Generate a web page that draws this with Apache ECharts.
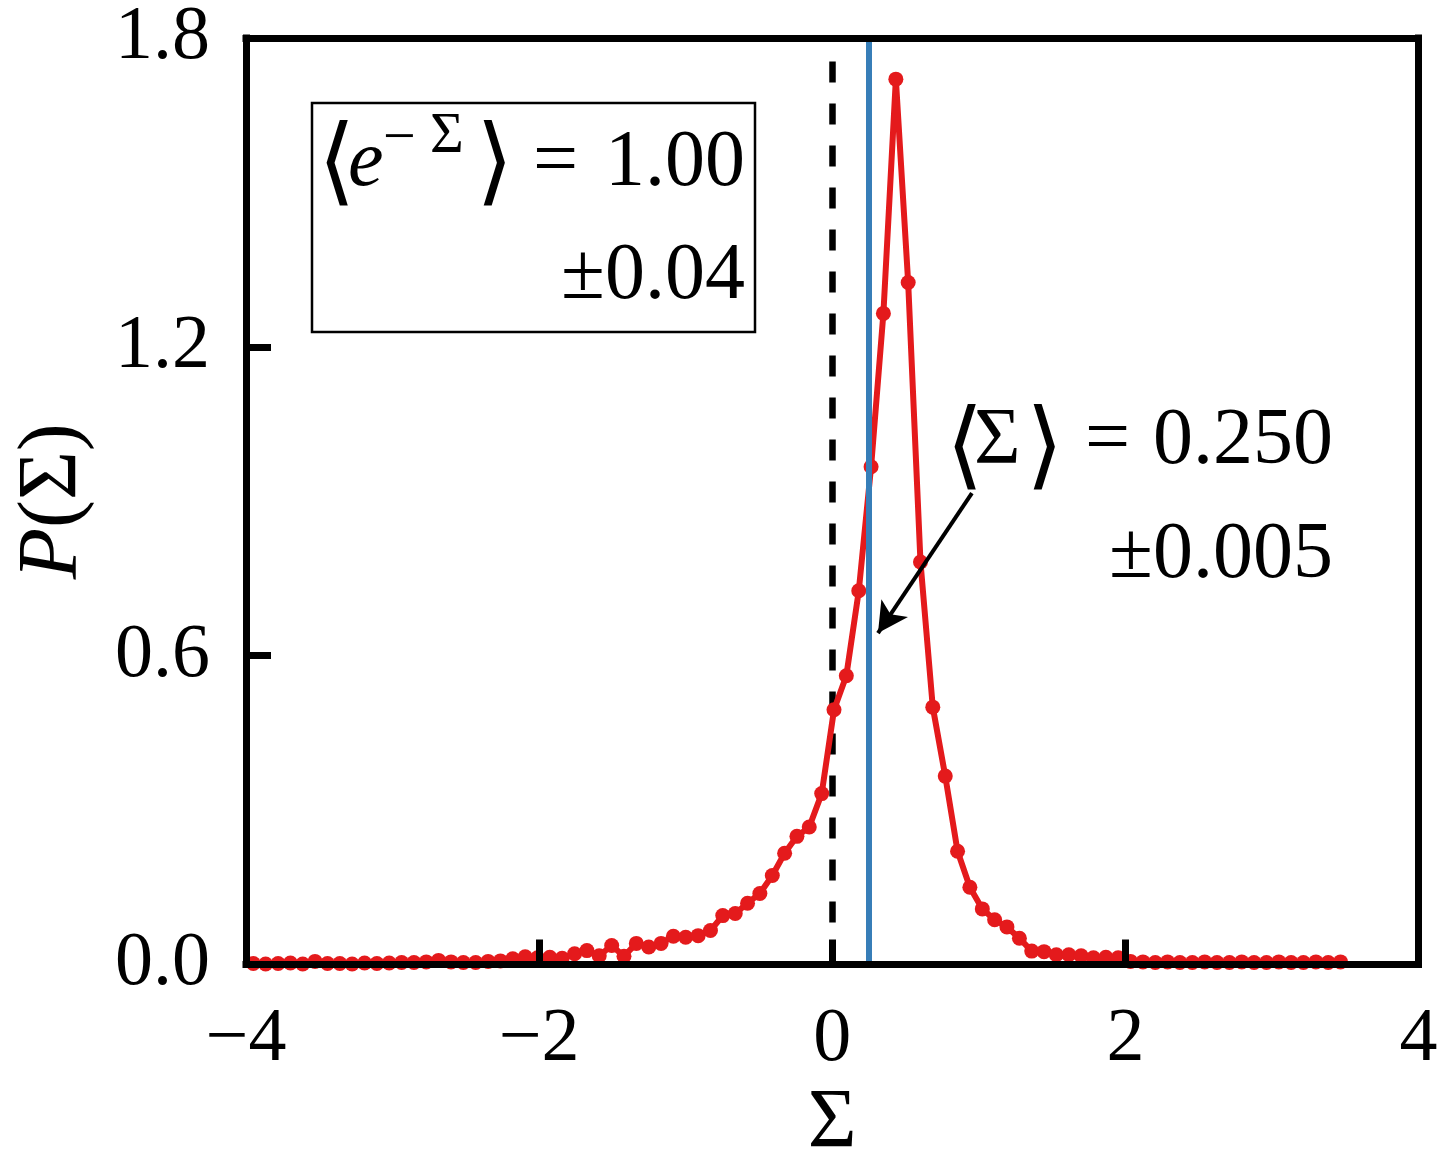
<!DOCTYPE html>
<html>
<head>
<meta charset="utf-8">
<script src="https://cdn.jsdelivr.net/npm/echarts@6/dist/echarts.min.js"></script>
<style>
html, body { margin: 0; padding: 0; background: #fff; }
#main { width: 1446px; height: 1169px; }
</style>
</head>
<body>
<div id="main"></div>
<script>
// histogram bin centres (Sigma) and probability density P(Sigma)
const sigma = [
    -3.950, -3.866, -3.781, -3.697, -3.613, -3.529, -3.444, -3.360, -3.276, -3.191,
    -3.107, -3.023, -2.938, -2.854, -2.770, -2.686, -2.601, -2.517, -2.433, -2.348,
    -2.264, -2.180, -2.095, -2.011, -1.927, -1.843, -1.758, -1.674, -1.590, -1.505,
    -1.421, -1.337, -1.252, -1.168, -1.084, -1.000, -0.915, -0.831, -0.747, -0.662,
    -0.578, -0.494, -0.409, -0.325, -0.241, -0.157, -0.072, 0.012, 0.096, 0.181,
    0.265, 0.349, 0.434, 0.518, 0.602, 0.686, 0.771, 0.855, 0.939, 1.024,
    1.108, 1.192, 1.277, 1.361, 1.445, 1.529, 1.614, 1.698, 1.782, 1.867,
    1.951, 2.035, 2.120, 2.204, 2.288, 2.372, 2.457, 2.541, 2.625, 2.710,
    2.794, 2.878, 2.963, 3.047, 3.131, 3.215, 3.300, 3.384, 3.468
];
const prob = [
    0.002, 0.001, 0.002, 0.003, 0.001, 0.006, 0.002, 0.002, 0.001, 0.003,
    0.002, 0.003, 0.004, 0.004, 0.005, 0.008, 0.005, 0.004, 0.004, 0.006,
    0.007, 0.011, 0.015, 0.013, 0.014, 0.012, 0.021, 0.027, 0.017, 0.037,
    0.016, 0.041, 0.034, 0.041, 0.055, 0.053, 0.056, 0.066, 0.095, 0.099,
    0.119, 0.138, 0.173, 0.216, 0.249, 0.267, 0.332, 0.495, 0.561, 0.726,
    0.967, 1.265, 1.720, 1.325, 0.782, 0.500, 0.366, 0.220, 0.150, 0.108,
    0.087, 0.073, 0.051, 0.026, 0.025, 0.019, 0.019, 0.017, 0.013, 0.014,
    0.013, 0.006, 0.005, 0.004, 0.005, 0.004, 0.004, 0.005, 0.004, 0.004,
    0.005, 0.004, 0.004, 0.005, 0.004, 0.004, 0.005, 0.004, 0.005
];
const meanSigma = 0.25;
const zeroLine = 0;
const arrowFrom = [0.953, 0.916];
const arrowTo = [0.312, 0.644];

const FONT = "'Liberation Serif', 'DejaVu Serif', serif";
const RED = '#e41a1c';
const BLUE = '#377eb8';

function minusSign(v) {
    return String(v).replace('-', '\u2212');
}

function txt(text, x, y, size, opts) {
    opts = opts || {};
    return {
        type: 'text',
        x: x,
        y: y,
        z: 20,
        style: {
            text: text,
            fill: '#000',
            font: (opts.italic ? 'italic ' : '') + size + 'px ' + FONT,
            align: opts.align || 'left',
            verticalAlign: 'middle'
        }
    };
}

function displayChart() {
    var chartDom = document.getElementById('main');
    var myChart = echarts.init(chartDom);
    var spine = { show: true, onZero: false, lineStyle: { color: '#000', width: 7, cap: 'square' } };
    var points = sigma.map(function (s, i) { return [s, prob[i]]; });

    var option = {
        animation: false,
        backgroundColor: '#fff',
        grid: { left: 246, right: 27.5, top: 38, bottom: 204.5, containLabel: false, outerBoundsMode: 'none' },
        xAxis: [
            {
                type: 'value', min: -4, max: 4, interval: 2, z: 10,
                axisLine: spine,
                axisTick: { show: true, inside: true, length: 25, lineStyle: { color: '#000', width: 7 } },
                splitLine: { show: false },
                axisLabel: {
                    margin: 38, color: '#000', fontFamily: FONT, fontSize: 76,
                    formatter: minusSign
                },
                name: '\u03a3', nameLocation: 'middle', nameGap: 112,
                nameTextStyle: { color: '#000', fontFamily: FONT, fontSize: 84 }
            },
            {
                type: 'value', min: -4, max: 4, position: 'top', z: 10,
                axisLine: spine, axisTick: { show: false }, axisLabel: { show: false },
                splitLine: { show: false }
            }
        ],
        yAxis: [
            {
                type: 'value', min: 0, max: 1.8, interval: 0.6, z: 10,
                axisLine: spine,
                axisTick: { show: true, inside: true, length: 25, lineStyle: { color: '#000', width: 7 } },
                splitLine: { show: false },
                axisLabel: {
                    margin: 36, color: '#000', fontFamily: FONT, fontSize: 76,
                    formatter: function (v) { return v.toFixed(1); }
                },
                name: '{i|P}(\u03a3)', nameLocation: 'middle', nameGap: 150, nameRotate: 90,
                nameTextStyle: {
                    color: '#000', fontFamily: FONT, fontSize: 84,
                    rich: { i: { fontStyle: 'italic', fontFamily: FONT, fontSize: 84, color: '#000' } }
                }
            },
            {
                type: 'value', min: 0, max: 1.8, position: 'right', z: 10,
                axisLine: spine, axisTick: { show: false }, axisLabel: { show: false },
                splitLine: { show: false }
            }
        ],
        series: [
            {
                // dashed reference line at Sigma = 0
                type: 'line', data: [], z: 1,
                markLine: {
                    silent: true, z: 1, symbol: ['none', 'none'], label: { show: false },
                    lineStyle: { color: '#000', width: 6.5, type: [21, 21] },
                    data: [{ xAxis: zeroLine }]
                }
            },
            {
                type: 'line', data: points, z: 2,
                symbol: 'circle', symbolSize: 15,
                itemStyle: { color: RED },
                lineStyle: { color: RED, width: 6 }
            },
            {
                // mean value line
                type: 'line', data: [], z: 3,
                markLine: {
                    silent: true, z: 3, symbol: ['none', 'none'], label: { show: false },
                    lineStyle: { color: BLUE, width: 6, type: 'solid' },
                    data: [{ xAxis: meanSigma }]
                }
            },
            {
                // arrow pointing to the mean
                type: 'line', data: [], z: 4,
                markLine: {
                    silent: true, z: 4, symbol: ['none', 'arrow'], symbolSize: [24, 30],
                    label: { show: false },
                    lineStyle: { color: '#000', width: 4, type: 'solid' },
                    data: [[{ coord: arrowFrom }, { coord: arrowTo }]]
                }
            }
        ],
        graphic: [
            {
                type: 'rect', z: 20,
                shape: { x: 312, y: 103, width: 443, height: 229 },
                style: { fill: '#fff', stroke: '#000', lineWidth: 2.5 }
            },
            txt('\u27e8', 318, 168, 96),
            txt('e', 348, 164, 80, { italic: true }),
            txt('\u2212', 383, 140, 58),
            txt('\u03a3', 430, 137, 58),
            txt('\u27e9', 476, 168, 96),
            txt('=', 533, 164, 80),
            txt('1.00', 745, 164, 80, { align: 'right' }),
            txt('\u00b10.04', 745, 277, 80, { align: 'right' }),

            txt('\u27e8', 946, 452, 96),
            txt('\u03a3', 974, 442, 80),
            txt('\u27e9', 1026, 452, 96),
            txt('=', 1085, 442, 80),
            txt('0.250', 1333, 442, 80, { align: 'right' }),
            txt('\u00b10.005', 1333, 556, 80, { align: 'right' })
        ]
    };
    myChart.setOption(option);
}
displayChart();
</script>
</body>
</html>
